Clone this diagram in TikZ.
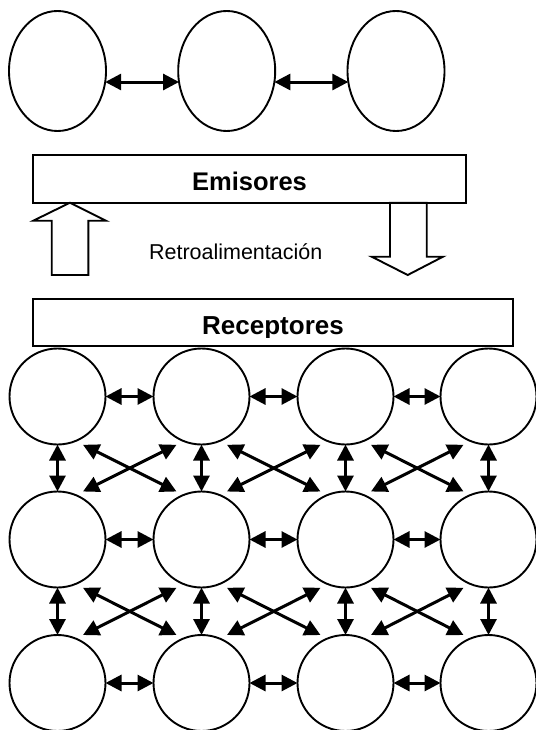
\documentclass[tikz,border=0pt]{standalone}
\usepackage{fontspec}
\setmainfont{Liberation Sans}
\usetikzlibrary{arrows.meta,shapes.geometric,calc}
\begin{document}
\begin{tikzpicture}[x=1pt,y=-1pt,
  oval/.style={draw,ellipse,line width=1.9pt,minimum width=97pt,minimum height=120pt,inner sep=0pt,outer sep=0pt},
  cell/.style={draw,circle,line width=1.9pt,minimum size=96pt,inner sep=0pt,outer sep=0pt},
  link/.style={line width=3pt,{Triangle[length=16pt 0,width=16pt 0]}-{Triangle[length=16pt 0,width=16pt 0]}},
  box/.style={draw,line width=1.9pt,inner sep=0pt,outer sep=0pt},
  blockarrow/.style={draw,line width=1.9pt,line join=miter},
  lbl/.style={anchor=base,inner sep=0pt,outer sep=0pt},
]
\useasboundingbox[fill=white] (0,0) rectangle (535,730);

% top ellipses
\node[oval] (e1) at (57.5,71) {};
\node[oval] (e2) at (226.7,71) {};
\node[oval] (e3) at (396,71) {};
\draw[link] (e1.-13.8) -- (e2.193.8);
\draw[link] (e2.-13.8) -- (e3.193.8);

% boxes
\node[box,minimum width=432.4pt,minimum height=47.7pt] (emi) at (249.5,178.85) {};
\node[lbl,font=\bfseries\fontsize{25.5}{30}\selectfont] (emit) at (249.5,190) {Emisores};

\node[box,minimum width=480pt,minimum height=46.7pt] (rec) at (273,322.35) {};
\begin{scope}
\clip (33,299) rectangle (513,337.5);
\node[lbl,font=\bfseries\fontsize{26}{30}\selectfont] (rect) at (273,334) {Receptores};
\end{scope}

% block arrows
\draw[blockarrow] (51.7,275) -- (51.7,220.7) -- (33.3,220.7) -- (70,202.7) -- (106,220.7) -- (88.3,220.7) -- (88.3,275) -- cycle;
\draw[blockarrow] (390,202.7) -- (390,256.7) -- (371.7,256.7) -- (407.7,275) -- (443,256.7) -- (426.7,256.7) -- (426.7,202.7) -- cycle;

\node[lbl,font=\fontsize{21.5}{26}\selectfont] (retro) at (235.7,259.5) {Retroalimentación};

% grid of circles
\foreach \c/\x in {1/57.5,2/201.5,3/345.5,4/488.5}
  \foreach \r/\y in {1/396.5,2/539.5,3/683}
    \node[cell] (c\r\c) at (\x,\y) {};

% horizontal links
\foreach \r in {1,2,3}
  \foreach \c/\n in {1/2,2/3,3/4}
    \draw[link] (c\r\c) -- (c\r\n);

% vertical links
\foreach \c in {1,2,3,4}
  \foreach \r/\s in {1/2,2/3}
    \draw[link] (c\r\c) -- (c\s\c);

% diagonal crossings
\foreach \r/\s in {1/2,2/3}
  \foreach \c/\n in {1/2,2/3,3/4}{
    \coordinate (ul\r\c) at ($(c\r\c.center)+(25.5,48.3)$);
    \coordinate (ur\r\c) at ($(c\r\n.center)+(-25,48.3)$);
    \coordinate (ll\r\c) at ($(c\s\c.center)+(25.5,-48)$);
    \coordinate (lr\r\c) at ($(c\s\n.center)+(-25,-48)$);
    \draw[link] (ul\r\c) -- (lr\r\c);
    \draw[link] (ur\r\c) -- (ll\r\c);
  }
\end{tikzpicture}
\end{document}
